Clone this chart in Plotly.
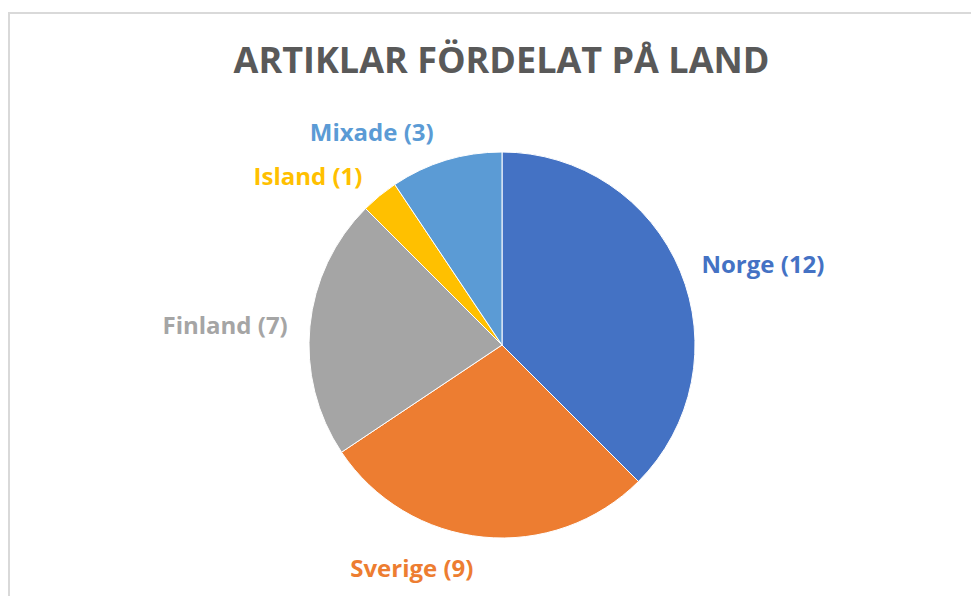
import plotly.graph_objects as go

labels = ["Norge", "Sverige", "Finland", "Island", "Mixade"]
values = [12, 9, 7, 1, 3]
colors = ["#4472C4", "#ED7D31", "#A5A5A5", "#FFC000", "#5B9BD5"]

W, H = 979, 596
OFF = 8  # page body margin
cx, cy, r = 502 - OFF, 345 - OFF, 193
r_lab = 207  # radius of the invisible label ring


def dom(rad):
    return dict(x=[(cx - rad) / W, (cx + rad) / W],
                y=[(H - cy - rad) / H, (H - cy + rad) / H])


fig = go.Figure()
# visible pie
fig.add_trace(go.Pie(
    labels=labels, values=values, sort=False, direction="clockwise", rotation=0,
    marker=dict(colors=colors, line=dict(color="white", width=1)),
    textinfo="none", hoverinfo="label+value", showlegend=False,
    domain=dom(r),
))
# transparent ring carrying outside labels
fig.add_trace(go.Pie(
    labels=labels, values=values, sort=False, direction="clockwise", rotation=0,
    marker=dict(colors=["rgba(0,0,0,0)"] * len(values), line=dict(width=0)),
    texttemplate="<b>%{label} (%{value})</b>",
    textposition="outside",
    outsidetextfont=dict(color=colors, size=24, family="Open Sans"),
    hoverinfo="skip", showlegend=False,
    domain=dom(r_lab),
))

fig.update_layout(
    width=W, height=H,
    margin=dict(l=0, r=0, t=0, b=0),
    paper_bgcolor="white",
    title=dict(text="<b>ARTIKLAR FÖRDELAT PÅ LAND</b>", x=(501.5 - OFF) / W, xanchor="center",
               y=1 - (60 - OFF) / H, yanchor="middle",
               font=dict(family="Open Sans", size=36, color="#595959")),
    shapes=[dict(type="rect", xref="paper", yref="paper",
                 x0=1 / W, x1=1.05, y0=-0.05, y1=1 - 5 / H,
                 line=dict(color="#D9D9D9", width=2), fillcolor="rgba(0,0,0,0)")],
    font=dict(family="Open Sans"),
)

fig.write_html("out.html")
